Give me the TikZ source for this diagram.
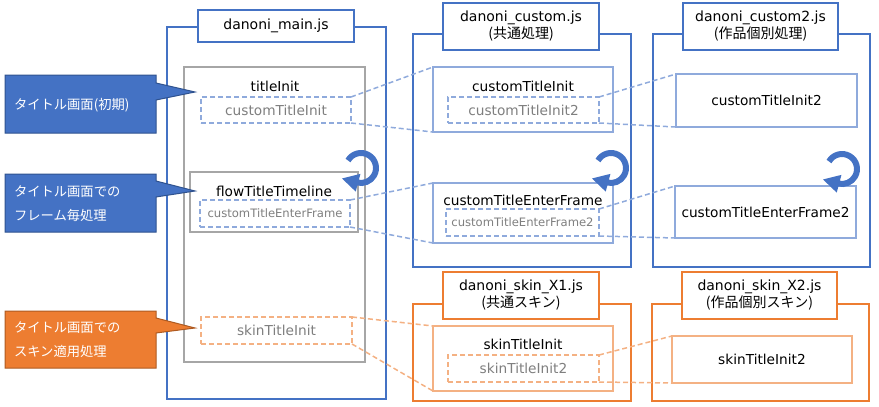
\documentclass[tikz,border=0pt]{standalone}
\usepackage{fontspec}
\setmainfont{DejaVu Sans}
\newfontfamily\jp{Noto Sans CJK JP}
\usetikzlibrary{arrows.meta}

\definecolor{mainblue}{HTML}{4472C4}
\definecolor{darkblue}{HTML}{2F528F}
\definecolor{paleblue}{HTML}{8FAADC}
\definecolor{mainorange}{HTML}{ED7D31}
\definecolor{darkorange}{HTML}{AE5A21}
\definecolor{paleorange}{HTML}{F4B183}
\definecolor{boxgrey}{HTML}{A6A6A6}
\definecolor{textgrey}{HTML}{7F7F7F}

\begin{document}
\begin{tikzpicture}[x=1pt,y=-1pt,
    every node/.style={inner sep=0pt, outer sep=0pt},
    sz/.style 2 args={minimum width=#1pt, minimum height=#2pt},
    filebox/.style={draw=#1, line width=1.8pt},
    titlebox/.style={draw=#1, line width=1.8pt, fill=white, align=center,
        font=\fontsize{14}{17}\selectfont},
    funcbox/.style={draw=#1, line width=1.5pt, fill=white},
    hookbox/.style={draw=#1, line width=1.5pt, dash pattern=on 5pt off 3pt},
    hooklink/.style={draw=#1, line width=1.5pt, dash pattern=on 5pt off 3pt},
    fname/.style={font=\fontsize{13.7}{16}\selectfont},
    hname/.style={font=\fontsize{13.7}{16}\selectfont, text=textgrey},
    calltext/.style={anchor=west, align=left, text=white,
        font=\jp\fontsize{13.3}{24}\selectfont},
    callblue/.style={fill=mainblue, draw=darkblue, line width=1pt},
    callorange/.style={fill=mainorange, draw=darkorange, line width=1pt},
    cyclearrow/.style={draw=mainblue, line width=6pt, -{Triangle[length=17pt,width=17pt]}}]

    \useasboundingbox (0,0) rectangle (879,407);

    % file frames
    \node[filebox=mainblue, sz={219}{372}] (mainjs) at (276.5,213) {};
    \node[filebox=mainblue, sz={218}{233}] (customjs) at (522,150.5) {};
    \node[filebox=mainblue, sz={217}{233}] (custom2js) at (761.5,150.5) {};
    \node[filebox=mainorange, sz={218}{97}] (skin1js) at (522,352.5) {};
    \node[filebox=mainorange, sz={217}{97}] (skin2js) at (760.5,352.5) {};

    \node[titlebox=mainblue, sz={156}{32}] (mainTitle) at (276,26) {danoni\_main.js};
    \node[titlebox=mainblue, sz={156}{47}] (customTitle) at (521,26.5)
        {danoni\_custom.js\\{\jp (共通処理)}};
    \node[titlebox=mainblue, sz={155}{47}] (custom2Title) at (760.5,26.5)
        {danoni\_custom2.js\\{\jp (作品個別処理)}};
    \node[titlebox=mainorange, sz={156}{47}] (skin1Title) at (521,295.5)
        {danoni\_skin\_X1.js\\{\jp (共通スキン)}};
    \node[titlebox=mainorange, sz={155}{47}] (skin2Title) at (759.5,295.5)
        {danoni\_skin\_X2.js\\{\jp (作品個別スキン)}};

    % danoni_main.js
    \node[funcbox=boxgrey, sz={181}{295}] (titleInit) at (274.5,214.5) {};
    \node[fname] (titleInitText) at (275,86) {titleInit};
    \node[hookbox=paleblue, sz={150}{26}, hname] (mainHookInit) at (276,110) {customTitleInit};
    \node[funcbox=boxgrey, sz={168}{60}] (flowTimeline) at (274,202) {};
    \node[fname] (flowTimelineText) at (274,191) {flowTitleTimeline};
    \node[hookbox=paleblue, sz={150}{27}, hname, font=\fontsize{11.6}{14}\selectfont]
        (mainHookFrame) at (275,213.5) {customTitleEnterFrame};
    \node[hookbox=paleorange, sz={151}{27}, hname] (mainHookSkin) at (276.5,330.5) {skinTitleInit};

    % danoni_custom.js
    \node[funcbox=paleblue, sz={180}{65}] (customInit) at (523,99.5) {};
    \node[fname] (customInitText) at (523,86) {customTitleInit};
    \node[hookbox=paleblue, sz={151}{26}, hname] (customHookInit) at (523.5,110) {customTitleInit2};
    \node[funcbox=paleblue, sz={180}{60}] (customFrame) at (523,213) {};
    \node[fname] (customFrameText) at (523,200) {customTitleEnterFrame};
    \node[hookbox=paleblue, sz={153}{27}, hname, font=\fontsize{11.6}{14}\selectfont]
        (customHookFrame) at (522.5,222.5) {customTitleEnterFrame2};

    % danoni_custom2.js
    \node[funcbox=paleblue, sz={181}{53}, fname] (custom2Init) at (766.5,100.5) {customTitleInit2};
    \node[funcbox=paleblue, sz={181}{52}, fname] (custom2Frame) at (765.5,212) {customTitleEnterFrame2};

    % skins
    \node[funcbox=paleorange, sz={180}{65}] (skin1Init) at (523,358.5) {};
    \node[fname] (skin1InitText) at (523,344) {skinTitleInit};
    \node[hookbox=paleorange, sz={151}{27}, hname] (skin1Hook) at (523.5,368.5) {skinTitleInit2};
    \node[funcbox=paleorange, sz={180}{47}, fname] (skin2Init) at (762,359.5) {skinTitleInit2};

    % hook links
    \draw[hooklink=paleblue] (mainHookInit.north east) -- (customInit.north west);
    \draw[hooklink=paleblue] (mainHookInit.south east) -- (customInit.south west);
    \draw[hooklink=paleblue] (mainHookFrame.north east) -- (customFrame.north west);
    \draw[hooklink=paleblue] (mainHookFrame.south east) -- (customFrame.south west);
    \draw[hooklink=paleorange] (mainHookSkin.north east) -- (skin1Init.north west);
    \draw[hooklink=paleorange] (mainHookSkin.south east) -- (skin1Init.south west);
    \draw[hooklink=paleblue] (customHookInit.north east) -- (custom2Init.north west);
    \draw[hooklink=paleblue] (customHookInit.south east) -- (custom2Init.south west);
    \draw[hooklink=paleblue] (customHookFrame.north east) -- (custom2Frame.north west);
    \draw[hooklink=paleblue] (customHookFrame.south east) -- (custom2Frame.south west);
    \draw[hooklink=paleorange] (skin1Hook.north east) -- (skin2Init.north west);
    \draw[hooklink=paleorange] (skin1Hook.south east) -- (skin2Init.south west);

    % frame loops
    \coordinate (mainLoop) at (361,168);
    \coordinate (customLoop) at (611,168);
    \coordinate (custom2Loop) at (842,169);
    \foreach \c in {mainLoop, customLoop, custom2Loop}
        \draw[cyclearrow] (\c) ++(150:15pt) arc[start angle=150, end angle=-105, radius=15pt]
            -- ++(165:16pt);

    % callouts
    \draw[callblue] (5,75) -- (156,75) -- (156,83) -- (195,92) -- (156,100)
        -- (156,133) -- (5,133) -- cycle;
    \node[calltext] (noteInit) at (14,105) {タイトル画面(初期)};
    \draw[callblue] (5,174) -- (156,174) -- (156,181) -- (195,191) -- (156,197)
        -- (156,232) -- (5,232) -- cycle;
    \node[calltext] (noteFrame) at (14,203.5) {タイトル画面での\\フレーム毎処理};
    \draw[callorange] (5,311) -- (156,311) -- (156,318) -- (195,328) -- (156,333)
        -- (156,368) -- (5,368) -- cycle;
    \node[calltext] (noteSkin) at (14,340) {タイトル画面での\\スキン適用処理};

\end{tikzpicture}
\end{document}
